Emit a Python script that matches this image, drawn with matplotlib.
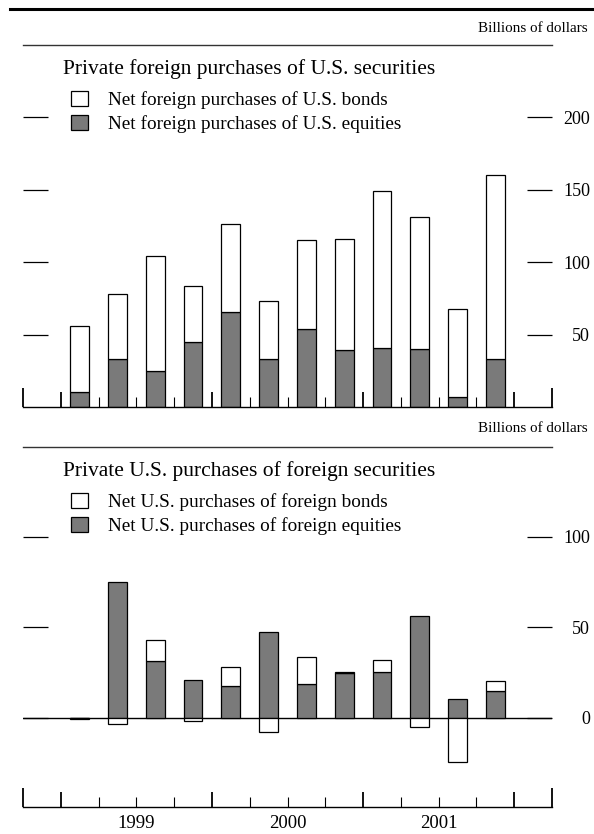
import numpy as np
import matplotlib
matplotlib.use('Agg')
import matplotlib.pyplot as plt
from matplotlib.patches import Patch
from matplotlib.lines import Line2D
from matplotlib.ticker import FixedLocator, FixedFormatter

# quarterly data, billions of dollars (1999Q1 - 2001Q4)
quarters = ['1999Q1', '1999Q2', '1999Q3', '1999Q4',
            '2000Q1', '2000Q2', '2000Q3', '2000Q4',
            '2001Q1', '2001Q2', '2001Q3', '2001Q4']
years = ['1999', '2000', '2001']

# private foreign purchases of U.S. securities
foreign_equities = [10.3, 32.9, 24.6, 44.6, 65.5, 33.3, 53.6, 39.1, 40.9, 40.2, 7.1, 33.3]
foreign_bonds = [45.6, 45.0, 79.8, 38.6, 60.9, 40.0, 61.8, 76.8, 108.1, 91.1, 60.5, 126.5]

# private U.S. purchases of foreign securities
us_equities = [-0.9, 75.3, 31.2, 20.7, 17.5, 47.6, 18.8, 24.9, 25.3, 56.5, 10.3, 14.6]
us_bonds = [0.0, -3.5, 11.6, -2.0, 10.3, -7.7, 14.6, 0.3, 6.4, -5.4, -24.4, 5.5]

top_ticks = [50, 100, 150, 200]
bottom_ticks = [0, 50, 100]

plt.rcParams['font.family'] = ['Liberation Serif', 'DejaVu Serif']
gris = '#7a7a7a'
W, H = 594, 834

fig = plt.figure(figsize=(W / 100, H / 100), dpi=100)


def fx(px):
    return px / W


def fy(py):
    return 1 - py / H


def panel(ax, equities, bonds, yticks, ylim, show_years):
    x = np.arange(1, len(quarters) + 1)
    eq = np.array(equities)
    bo = np.array(bonds)
    # bonds are stacked on the equities on the same side of zero
    base = np.where(bo >= 0, np.maximum(eq, 0), np.minimum(eq, 0))
    ax.bar(x, eq, width=0.5, color=gris, edgecolor='black', linewidth=0.9, zorder=2)
    ax.bar(x, bo, bottom=base, width=0.5, color='white', edgecolor='black', linewidth=0.9, zorder=2)

    ax.set_xlim(-0.5, len(quarters) + 1.5)
    ax.set_ylim(*ylim)
    for s in ['left', 'right', 'top']:
        ax.spines[s].set_visible(False)
    ax.spines['bottom'].set_linewidth(1.0)
    ax.patch.set_visible(False)

    # x ticks: year boundaries (major), quarters (minor)
    ax.set_xticks([-0.5, 0.5, 4.5, 8.5, 12.5, 13.5])
    ax.set_xticklabels([])
    minor = [1.5, 2.5, 3.5, 5.5, 6.5, 7.5, 9.5, 10.5, 11.5]
    ax.xaxis.set_minor_locator(FixedLocator(minor))
    if show_years:
        labs = ['', years[0], '', '', years[1], '', '', years[2], '']
    else:
        labs = [''] * len(minor)
    ax.xaxis.set_minor_formatter(FixedFormatter(labs))
    ax.tick_params(axis='x', which='major', direction='in', length=10.8, width=1.3)
    ax.tick_params(axis='x', which='minor', direction='in', length=7.2, width=0.8,
                   labelsize=13.5, pad=6)
    t = ax.xaxis.get_major_ticks()
    t[0].tick1line.set_markersize(13.7)
    t[-1].tick1line.set_markersize(13.7)

    ax.set_yticks(yticks)
    ax.tick_params(axis='y', which='major', left=True, right=True, direction='in',
                   length=18, width=0.9, labelleft=False, labelright=True,
                   labelsize=13, pad=27.5)
    for lab in ax.get_yticklabels():
        lab.set_ha('right')


# top panel
ax1 = fig.add_axes([fx(23), fy(407), fx(552) - fx(23), fy(45) - fy(407)])
panel(ax1, foreign_equities, foreign_bonds, top_ticks, (0, 249.7), False)

# bottom panel
ax2 = fig.add_axes([fx(23), fy(806.7), fx(552) - fx(23), fy(447) - fy(806.7)])
panel(ax2, us_equities, us_bonds, bottom_ticks, (-49.3, 149.8), True)
ax2.axhline(0, color='black', linewidth=1.0, zorder=1)

# frame lines and headings
fig.add_artist(Line2D([fx(10), 1], [fy(8.5), fy(8.5)], color='black', linewidth=2.2))
for ysep, ybil in [(45, 28), (447, 429)]:
    fig.add_artist(Line2D([fx(23), fx(552)], [fy(ysep), fy(ysep)], color='#333333', linewidth=1.0))
    fig.text(fx(588), fy(ybil), 'Billions of dollars', ha='right', va='center', fontsize=10.9)

titulos = ['Private foreign purchases of U.S. securities',
           'Private U.S. purchases of foreign securities']
leyendas = [['Net foreign purchases of U.S. bonds', 'Net foreign purchases of U.S. equities'],
            ['Net U.S. purchases of foreign bonds', 'Net U.S. purchases of foreign equities']]

for k, off in enumerate([0, 402]):
    fig.text(fx(63), fy(74 + off), titulos[k], ha='left', va='baseline', fontsize=15.5)
    handles = [Patch(facecolor='white', edgecolor='black', linewidth=0.9, label=leyendas[k][0]),
               Patch(facecolor=gris, edgecolor='black', linewidth=0.9, label=leyendas[k][1])]
    fig.legend(handles=handles, loc='upper left', bbox_to_anchor=(fx(71), fy(91.5 + off)),
               bbox_transform=fig.transFigure, frameon=False, fontsize=13.85,
               handlelength=0.89, handleheight=0.78, handletextpad=1.04,
               labelspacing=0.3, borderpad=0, borderaxespad=0)

plt.savefig('out.png', dpi=100)
